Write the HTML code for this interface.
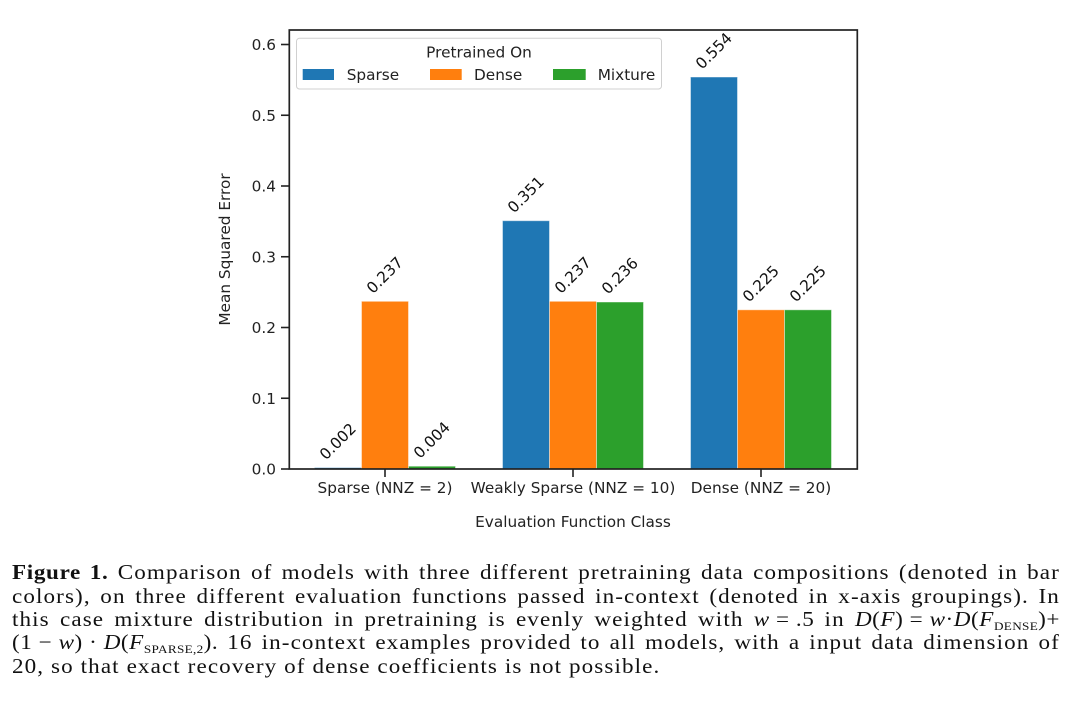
<!DOCTYPE html>
<html>
<head>
<meta charset="utf-8">
<style>
  html, body { margin:0; padding:0; background:#fff; }
  body { width:1080px; height:710px; position:relative; overflow:hidden; }
  svg { position:absolute; left:0; top:0; }
  .cap { position:absolute; left:12px; width:952.7px; transform:scaleX(1.1); transform-origin:0 0; font-family:"Liberation Serif", serif; font-size:21px; line-height:24px; color:#111; white-space:nowrap; letter-spacing:1px; text-align:justify; text-align-last:justify; }
  .cap.last { text-align:left; text-align-last:left; }
  .cap b { letter-spacing:0.6px; }
  .sc { font-size:12px; letter-spacing:0.3px; position:relative; top:4px; }
  .m { font-style:italic; }
  .ib { display:inline-block; letter-spacing:0.5px; }
</style>
</head>
<body>
<svg width="1080" height="540" viewBox="0 0 1080 540" xmlns="http://www.w3.org/2000/svg" font-family="DejaVu Sans, Liberation Sans, sans-serif" font-size="15.3" fill="#222">
  <!-- bars -->
  <g stroke="#fff" stroke-opacity="0.45" stroke-width="1">
    <rect x="314.5" y="467.6" width="47" height="1.4" fill="#1f77b4"/>
    <rect x="361.5" y="301.3" width="47" height="167.7" fill="#ff7f0e"/>
    <rect x="408.5" y="466.2" width="47" height="2.8" fill="#2ca02c"/>
    <rect x="502.5" y="220.7" width="47" height="248.3" fill="#1f77b4"/>
    <rect x="549.5" y="301.3" width="47" height="167.7" fill="#ff7f0e"/>
    <rect x="596.5" y="302.0" width="47" height="167.0" fill="#2ca02c"/>
    <rect x="690.5" y="77.0" width="47" height="392" fill="#1f77b4"/>
    <rect x="737.5" y="309.8" width="47" height="159.2" fill="#ff7f0e"/>
    <rect x="784.5" y="309.8" width="47" height="159.2" fill="#2ca02c"/>
  </g>
  <!-- annotations -->
  <g text-anchor="middle" dominant-baseline="central" fill="#111">
    <text x="338" y="441.6" transform="rotate(-45 338 441.6)">0.002</text>
    <text x="385" y="275.3" transform="rotate(-45 385 275.3)">0.237</text>
    <text x="432" y="440.2" transform="rotate(-45 432 440.2)">0.004</text>
    <text x="526" y="194.7" transform="rotate(-45 526 194.7)">0.351</text>
    <text x="573" y="275.3" transform="rotate(-45 573 275.3)">0.237</text>
    <text x="620" y="276.0" transform="rotate(-45 620 276.0)">0.236</text>
    <text x="714" y="51.0" transform="rotate(-45 714 51.0)">0.554</text>
    <text x="761" y="283.8" transform="rotate(-45 761 283.8)">0.225</text>
    <text x="808" y="283.8" transform="rotate(-45 808 283.8)">0.225</text>
  </g>
  <!-- spines -->
  <rect x="289.3" y="30" width="568" height="439" fill="none" stroke="#222" stroke-width="1.7"/>
  <!-- ticks -->
  <g stroke="#222" stroke-width="1.6">
    <line x1="281" y1="469" x2="289.3" y2="469"/>
    <line x1="281" y1="398.25" x2="289.3" y2="398.25"/>
    <line x1="281" y1="327.5" x2="289.3" y2="327.5"/>
    <line x1="281" y1="256.75" x2="289.3" y2="256.75"/>
    <line x1="281" y1="186" x2="289.3" y2="186"/>
    <line x1="281" y1="115.25" x2="289.3" y2="115.25"/>
    <line x1="281" y1="44.5" x2="289.3" y2="44.5"/>
    <line x1="385" y1="469" x2="385" y2="477"/>
    <line x1="573" y1="469" x2="573" y2="477"/>
    <line x1="761" y1="469" x2="761" y2="477"/>
  </g>
  <g text-anchor="end">
    <text x="276" y="474.5">0.0</text>
    <text x="276" y="403.75">0.1</text>
    <text x="276" y="333">0.2</text>
    <text x="276" y="262.25">0.3</text>
    <text x="276" y="191.5">0.4</text>
    <text x="276" y="120.75">0.5</text>
    <text x="276" y="50">0.6</text>
  </g>
  <g text-anchor="middle">
    <text x="385" y="493">Sparse (NNZ = 2)</text>
    <text x="573" y="493">Weakly Sparse (NNZ = 10)</text>
    <text x="761" y="493">Dense (NNZ = 20)</text>
    <text x="573" y="527">Evaluation Function Class</text>
    <text x="230" y="249.5" transform="rotate(-90 230 249.5)">Mean Squared Error</text>
  </g>
  <!-- legend -->
  <rect x="296.5" y="38.3" width="365" height="50.7" rx="3" fill="#fff" fill-opacity="0.85" stroke="#d0d0d0" stroke-width="1"/>
  <text x="479" y="57.3" text-anchor="middle">Pretrained On</text>
  <rect x="302.7" y="69" width="31.3" height="11" fill="#1f77b4"/>
  <text x="346.7" y="80">Sparse</text>
  <rect x="430" y="69" width="31.7" height="11" fill="#ff7f0e"/>
  <text x="474" y="80">Dense</text>
  <rect x="553" y="69" width="32.7" height="11" fill="#2ca02c"/>
  <text x="597.7" y="80">Mixture</text>
</svg>

<div class="cap" style="top:560.2px;"><b>Figure 1.</b> Comparison of models with three different pretraining data compositions (denoted in bar</div>
<div class="cap" style="top:583.6px;">colors), on three different evaluation functions passed in-context (denoted in x-axis groupings). In</div>
<div class="cap" style="top:606.6px;">this case mixture distribution in pretraining is evenly weighted with <span class="ib"><span class="m">w</span> = .5</span> in <span class="ib"><span class="m">D</span>(<span class="m">F</span>) = <span class="m">w</span>·<span class="m">D</span>(<span class="m">F</span><span class="sc">DENSE</span>)+</span></div>
<div class="cap" style="top:629.9px;"><span class="ib">(1 − <span class="m">w</span>) · <span class="m">D</span>(<span class="m">F</span><span class="sc">SPARSE,2</span>).</span> 16 in-context examples provided to all models, with a input data dimension of</div>
<div class="cap last" style="top:653.6px;">20, so that exact recovery of dense coefficients is not possible.</div>
</body>
</html>
